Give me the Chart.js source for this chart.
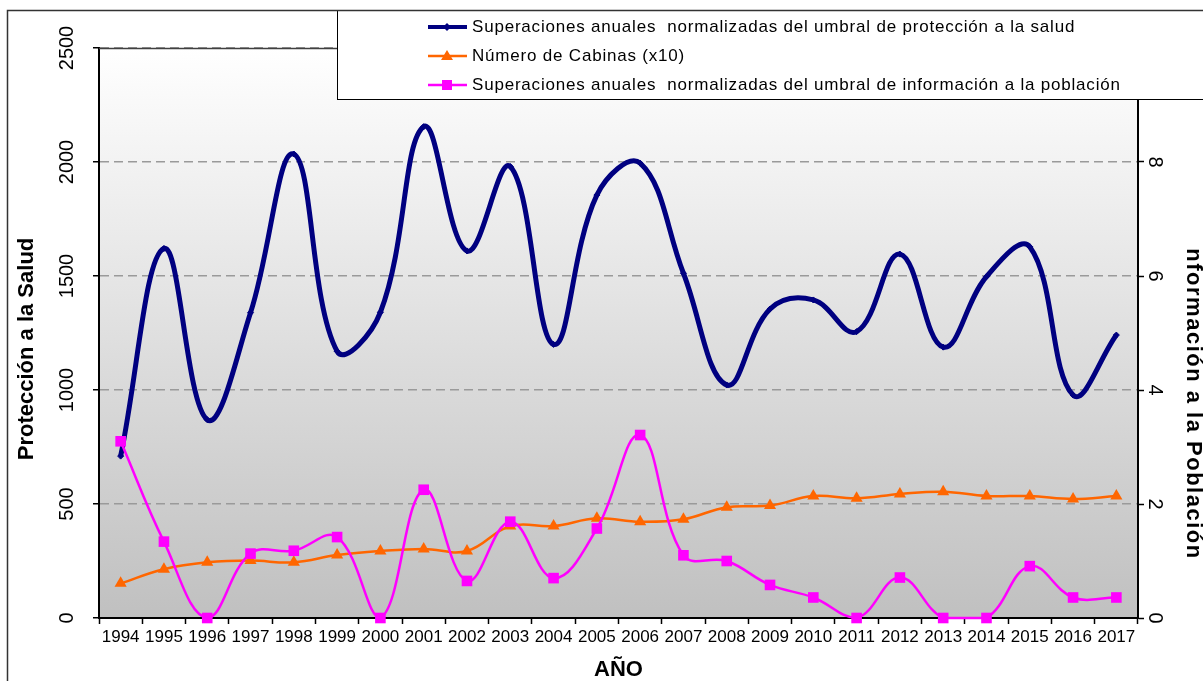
<!DOCTYPE html>
<html><head><meta charset="utf-8">
<script src="https://cdn.jsdelivr.net/npm/chart.js@4.4.1/dist/chart.umd.min.js"></script>
<style>html,body{margin:0;padding:0;background:#fff}canvas{display:block}</style>
</head><body>
<canvas id="c" width="1203" height="681"></canvas>
<script>
const years = ['1994','1995','1996','1997','1998','1999','2000','2001','2002','2003','2004','2005','2006','2007','2008','2009','2010','2011','2012','2013','2014','2015','2016','2017'];
const proteccionSalud = [710,1621,870,1339,2035,1170,1341,2155,1610,1980,1200,1855,1995,1512,1022,1355,1395,1256,1596,1188,1497,1628,978,1241];
const cabinasX10 = [152,214,244,252,244,276,294,303,294,403,403,437,422,433,486,493,535,525,544,554,535,535,522,535];
const informacionPoblacion = [3.1,1.34,0,1.13,1.18,1.42,0,2.25,0.65,1.69,0.70,1.57,3.21,1.1,1.0,0.58,0.36,0,0.71,0,0,0.91,0.36,0.36];
const seriesLabels = [
  'Superaciones anuales  normalizadas del umbral de protección a la salud',
  'Número de Cabinas (x10)',
  'Superaciones anuales  normalizadas del umbral de información a la población'
];
const seriesColors = ['#000080','#FF6600','#FF00FF'];
const leftRange = [0, 2500, 500];
const rightRange = [0, 10, 2];
const xTitle = 'AÑO';
const leftTitle = 'Protección a la Salud';
const rightTitle = 'nformación a la Población';
const FONT = '"Liberation Sans", Arial, sans-serif';

const bgPlugin = {
  id: 'bg',
  beforeDraw(chart) {
    const {ctx, chartArea: a} = chart;
    ctx.save();
    ctx.fillStyle = '#fff';
    ctx.fillRect(0, 0, chart.width, chart.height);
    const g = ctx.createLinearGradient(0, a.top, 0, a.bottom);
    g.addColorStop(0, '#ffffff');
    g.addColorStop(1, '#c0c0c0');
    ctx.fillStyle = g;
    ctx.fillRect(a.left, a.top, a.right - a.left, a.bottom - a.top);
    ctx.restore();
  }
};

const overlayPlugin = {
  id: 'overlay',
  afterDraw(chart) {
    const {ctx, chartArea: a} = chart;
    const ys = chart.scales.y, yr = chart.scales.y1;
    ctx.save();
    // top border of plot
    ctx.strokeStyle = '#404040'; ctx.lineWidth = 1.5;
    ctx.beginPath(); ctx.moveTo(a.left, a.top + 0.5); ctx.lineTo(a.right, a.top + 0.5); ctx.stroke();
    // y tick labels (rotated)
    ctx.fillStyle = '#000';
    ctx.font = '20px ' + FONT;
    ctx.textAlign = 'center'; ctx.textBaseline = 'middle';
    ys.ticks.forEach(t => {
      ctx.save(); ctx.translate(a.left - 32, ys.getPixelForValue(t.value));
      ctx.rotate(-Math.PI / 2); ctx.fillText(String(t.value), 0, 0); ctx.restore();
    });
    yr.ticks.forEach(t => {
      ctx.save(); ctx.translate(a.right + 17, yr.getPixelForValue(t.value));
      ctx.rotate(Math.PI / 2); ctx.fillText(String(t.value), 0, 0); ctx.restore();
    });
    // axis titles
    ctx.font = 'bold 22px ' + FONT;
    ctx.save(); ctx.translate(27, 349); ctx.rotate(-Math.PI / 2); ctx.fillText(leftTitle, 0, 0); ctx.restore();
    ctx.save(); ctx.translate(1193, 404); ctx.rotate(Math.PI / 2);
    ctx.letterSpacing = '1.5px'; ctx.fillText(rightTitle, 0, 0); ctx.letterSpacing = '0px'; ctx.restore();
    // legend
    ctx.fillStyle = '#fff'; ctx.strokeStyle = '#000'; ctx.lineWidth = 1;
    ctx.fillRect(337, 10, 900, 89);
    ctx.strokeRect(337.5, 10.5, 900, 89);
    const rows = [27, 56, 85];
    chart.data.datasets.forEach((ds, i) => {
      const y = rows[i];
      ctx.strokeStyle = ds.borderColor; ctx.lineWidth = i === 0 ? 4 : 2.5;
      ctx.beginPath(); ctx.moveTo(428, y); ctx.lineTo(467, y); ctx.stroke();
      ctx.fillStyle = ds.borderColor;
      ctx.beginPath();
      if (i === 0) { ctx.moveTo(447, y - 4); ctx.lineTo(451, y); ctx.lineTo(447, y + 4); ctx.lineTo(443, y); }
      else if (i === 1) { ctx.moveTo(447, y - 6); ctx.lineTo(453, y + 4); ctx.lineTo(441, y + 4); }
      else { ctx.rect(442, y - 5, 10, 10); }
      ctx.closePath(); ctx.fill();
      ctx.fillStyle = '#000';
      ctx.font = '17px ' + FONT;
      ctx.textAlign = 'left'; ctx.textBaseline = 'middle';
      ctx.letterSpacing = '0.8px';
      ctx.fillText(ds.label, 472, y);
      ctx.letterSpacing = '0px';
    });
    // outer border
    ctx.strokeStyle = '#333'; ctx.lineWidth = 1.5;
    ctx.strokeRect(7.5, 10.5, 1300, 800);
    ctx.restore();
  }
};

new Chart(document.getElementById('c'), {
  type: 'line',
  data: {
    labels: years,
    datasets: [
      {label: seriesLabels[0], data: proteccionSalud, yAxisID: 'y', borderColor: seriesColors[0], backgroundColor: seriesColors[0],
       borderWidth: 5, pointStyle: 'rectRot', pointRadius: 3, pointBorderWidth: 1, tension: 0.4, order: 3, clip: false},
      {label: seriesLabels[1], data: cabinasX10, yAxisID: 'y', borderColor: seriesColors[1], backgroundColor: seriesColors[1],
       borderWidth: 2.5, pointStyle: 'triangle', pointRadius: 7, pointBorderWidth: 0, tension: 0.4, order: 2, clip: false},
      {label: seriesLabels[2], data: informacionPoblacion, yAxisID: 'y1', borderColor: seriesColors[2], backgroundColor: seriesColors[2],
       borderWidth: 2.5, pointStyle: 'rect', pointRadius: 7.5, pointBorderWidth: 0, tension: 0.4, order: 1, clip: false}
    ]
  },
  options: {
    responsive: false, animation: false, devicePixelRatio: 1,
    layout: {padding: {top: 48, left: 0, right: 0, bottom: 0}},
    plugins: {legend: {display: false}, tooltip: {enabled: false}},
    scales: {
      x: {
        offset: true,
        grid: {offset: true, drawOnChartArea: false, color: '#000', tickColor: '#000', tickLength: 6, tickWidth: 1.5},
        border: {color: '#000', width: 2},
        ticks: {color: '#000', font: {family: FONT, size: 17}, padding: 3, maxRotation: 0, autoSkip: false},
        title: {display: true, text: xTitle, color: '#000', font: {family: FONT, size: 22, weight: 'bold', lineHeight: 1}, padding: {top: 0, bottom: 0}},
        afterFit: s => { s.height = 63; }
      },
      y: {
        position: 'left', min: leftRange[0], max: leftRange[1],
        ticks: {stepSize: leftRange[2], display: false},
        grid: {color: '#9a9a9a', lineWidth: 1.5, tickColor: '#000', tickLength: 6, tickWidth: 1.5},
        border: {color: '#000', width: 2, dash: [9, 5]},
        afterFit: s => { s.width = 99; }
      },
      y1: {
        position: 'right', min: rightRange[0], max: rightRange[1],
        ticks: {stepSize: rightRange[2], display: false},
        grid: {drawOnChartArea: false, color: '#000', tickColor: '#000', tickLength: 6, tickWidth: 1.5},
        border: {color: '#000', width: 2},
        afterFit: s => { s.width = 65; }
      }
    }
  },
  plugins: [bgPlugin, overlayPlugin]
});
</script>
</body></html>
